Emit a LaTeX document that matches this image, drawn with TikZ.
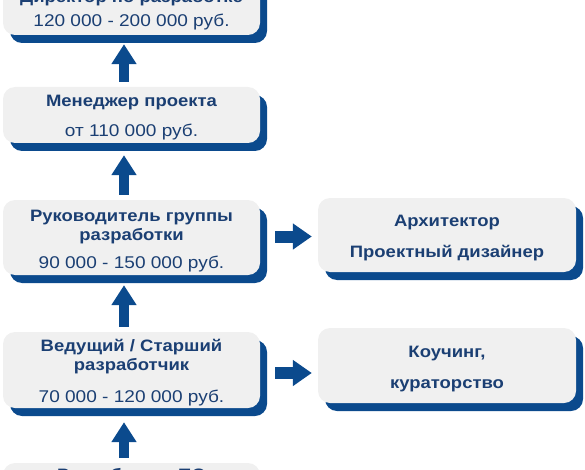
\documentclass[tikz,border=0pt]{standalone}
\usepackage{fontspec}
\setmainfont{Liberation Sans}[FakeStretch=1.12]
\usetikzlibrary{arrows.meta,shadows}

\definecolor{boxgrey}{HTML}{F0F0F0}
\definecolor{darkblue}{HTML}{0B4A8D}
\definecolor{textblue}{HTML}{1B3F73}

\tikzset{
  stage/.style={draw=none, fill=boxgrey, rounded corners=12pt, inner sep=0pt,
    minimum width=257pt,
    drop shadow={shadow xshift=7pt, shadow yshift=-8pt, fill=darkblue, opacity=1}},
  title/.style={anchor=base, inner sep=0pt, align=center, text=textblue,
    font=\fontsize{16.5}{19}\selectfont\bfseries},
  salary/.style={anchor=base, inner sep=0pt, text=textblue,
    font=\fontsize{17}{19}\selectfont},
  uparrow/.style={darkblue, line width=10pt, -{Triangle[width=24pt,length=20pt]}},
  rarrow/.style={darkblue, line width=12pt, -{Triangle[width=25pt,length=19pt]}}
}

\begin{document}
\begin{tikzpicture}[x=1pt,y=-1pt]

\useasboundingbox (0,0) rectangle (585,470);
\clip (0,0) rectangle (585,470);

% =========================
% BOXES
% =========================

\node[stage, minimum height=75pt] (dir) at (131.5,-2.5) {};
\node[stage, minimum height=56pt] (mgr) at (131.5,115) {};
\node[stage, minimum height=75pt] (lead) at (131.5,237.5) {};
\node[stage, minimum height=76pt] (senior) at (131.5,370) {};
\node[stage, minimum height=74pt] (dev) at (131.5,500) {};

\node[stage, minimum width=258pt, minimum height=74pt] (arch) at (447,235) {};
\node[stage, minimum width=258pt, minimum height=75pt] (coach) at (447,365.5) {};

% =========================
% TEXTS
% =========================

% base of a two-line title = its last line
\node[title] (dirT) at (131.5,3) {Директор по разработке};
\node[salary] (dirS) at (131.5,27) {120 000 - 200 000 руб.};

\node[title] (mgrT) at (131.5,107) {Менеджер проекта};
\node[salary] (mgrS) at (131.5,137) {от 110 000 руб.};

\node[title] (leadT) at (131.5,240) {Руководитель группы\\разработки};
\node[salary] (leadS) at (131.5,268) {90 000 - 150 000 руб.};

\node[title] (seniorT) at (131.5,370) {Ведущий / Старший\\разработчик};
\node[salary] (seniorS) at (131.5,402) {70 000 - 120 000 руб.};

\node[title] (devT) at (131.5,480) {Разработчик ПО};

\node[title] (archT) at (447,226) {Архитектор};
\node[title] (archD) at (447,257) {Проектный дизайнер};

\node[title] (coachT) at (447,357) {Коучинг,};
\node[title] (coachC) at (447,388) {кураторство};

% =========================
% ARROWS
% =========================

% up the ladder
\draw[uparrow] ([xshift=-7.5pt,yshift=5pt]mgr.north) -- ([xshift=-7.5pt,yshift=-9pt]dir.south);
\draw[uparrow] ([xshift=-7.5pt,yshift=5pt]lead.north) -- ([xshift=-7.5pt,yshift=-12pt]mgr.south);
\draw[uparrow] ([xshift=-7.5pt,yshift=5pt]senior.north) -- ([xshift=-7.5pt,yshift=-10pt]lead.south);
\draw[uparrow] ([xshift=-7.5pt,yshift=5pt]dev.north) -- ([xshift=-7.5pt,yshift=-14pt]senior.south);

% side steps
\coordinate (archIn) at (lead.east -| arch.west);
\coordinate (coachIn) at (senior.east -| coach.west);
\draw[rarrow] ([xshift=15pt,yshift=1pt]lead.east) -- ([xshift=-6pt,yshift=1pt]archIn);
\draw[rarrow] ([xshift=15pt,yshift=-3pt]senior.east) -- ([xshift=-6pt,yshift=-3pt]coachIn);

\end{tikzpicture}
\end{document}
